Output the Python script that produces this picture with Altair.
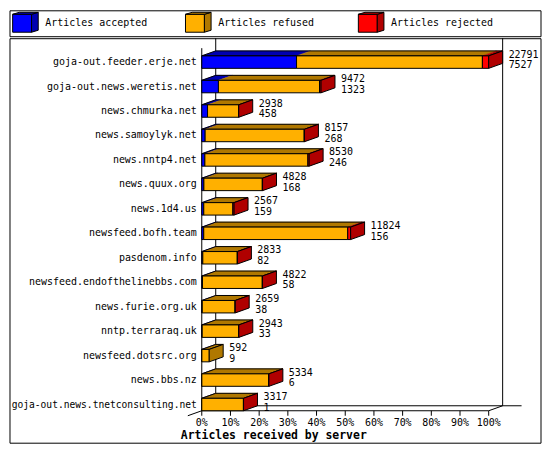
import altair as alt
import pandas as pd

# ---------------- data ----------------
servers = [
    "goja-out.feeder.erje.net", "goja-out.news.weretis.net", "news.chmurka.net",
    "news.samoylyk.net", "news.nntp4.net", "news.quux.org", "news.1d4.us",
    "newsfeed.bofh.team", "pasdenom.info", "newsfeed.endofthelinebbs.com",
    "news.furie.org.uk", "nntp.terraraq.uk", "newsfeed.dotsrc.org", "news.bbs.nz",
    "goja-out.news.tnetconsulting.net",
]
received = [22791, 9472, 2938, 8157, 8530, 4828, 2567, 11824, 2833, 4822, 2659, 2943, 592, 5334, 3317]
accepted = [7527, 1323, 458, 268, 246, 168, 159, 156, 82, 58, 38, 33, 9, 6, 1]
rejected = [500, 120, 15, 20, 100, 20, 100, 230, 12, 15, 10, 12, 0, 12, 10]
series = ["Articles accepted", "Articles refused", "Articles rejected"]
tick_values = [0, 10, 20, 30, 40, 50, 60, 70, 80, 90, 100]
tick_labels = [f"{t}%" for t in tick_values]
x_title = "Articles received by server"

# ---------------- styles / geometry ----------------
FONT = "DejaVu Sans Mono"
FRONT = ["#0000ff", "#ffb000", "#ff0000"]
DARK = ["#0000b0", "#b07800", "#b00000"]
W = 533                       # panel width
LEG_H = 26                    # legend panel height
MAIN_H = 406                  # main panel height
X0, X100 = 193, 481           # pixel range of 0%..100%
PX_PER_PCT = (X100 - X0) / 100
ROW0, ROW_PX = 24.0, 24.55    # first row centre, row pitch (px)
LABEL_ROOM = 186              # px available left of the axis for server names
n = len(servers) - 1
XS = alt.Scale(domain=[0, 100], range=[X0, X100], nice=False, zero=False)
YS = alt.Scale(domain=[0, n], range=[ROW0, ROW0 + n * ROW_PX], nice=False, zero=False)
px_x = lambda p: p / PX_PER_PCT      # pixels -> % units
px_y = lambda p: p / ROW_PX          # pixels -> row units
DX = px_x(14)      # 3D depth, horizontal
DY = px_y(5)       # 3D depth, vertical
H = px_y(6.25)     # half bar height

vmax = max(received)
pct = lambda v: v / vmax * 100

front_rows, top_rows, outline_rows, side_rows, label_rows = [], [], [], [], []
for i, name in enumerate(servers):
    refused = received[i] - accepted[i] - rejected[i]
    parts = [accepted[i], refused, rejected[i]]
    start = 0.0
    last = 0
    for k, v in enumerate(parts):
        if v <= 0:
            continue
        end = start + pct(v)
        sid = f"{i}-{k}"
        front_rows.append(dict(x=start, x2=end, y=i - H, y2=i + H, col=FRONT[k]))
        top_rows.append(dict(seg=sid, y=i - H, x=start, x2=end, col=DARK[k]))
        top_rows.append(dict(seg=sid, y=i - H - DY, x=start + DX, x2=end + DX, col=DARK[k]))
        start = end
        last = k
    tot = pct(received[i])
    outline_rows.append(dict(row=i, y=i - H, x=0, x2=tot))
    outline_rows.append(dict(row=i, y=i - H - DY, x=DX, x2=tot + DX))
    side_rows.append(dict(row=i, x=tot, y=i - H, y2=i + H, col=DARK[last]))
    side_rows.append(dict(row=i, x=tot + DX, y=i - H - DY, y2=i + H - DY, col=DARK[last]))
    fs = min(10.0, LABEL_ROOM / (0.602 * len(name)))
    label_rows.append(dict(row=i, name=name, fs=fs, tot=tot, zero=0,
                           total=str(received[i]), acc=str(accepted[i])))

front_df = pd.DataFrame(front_rows)
top_df = pd.DataFrame(top_rows)
outline_df = pd.DataFrame(outline_rows)
side_df = pd.DataFrame(side_rows)
label_df = pd.DataFrame(label_rows)

floor_front = n + H
floor_back = floor_front - DY
top_back = -px_y(ROW0)
top_front = top_back + px_y(10)
tick_len = px_y(5)
frame_df = pd.DataFrame([
    dict(x=DX, x2=DX, y=top_back, y2=floor_back),
    dict(x=100 + DX, x2=100 + DX, y=top_back, y2=floor_back),
    dict(x=DX, x2=100 + DX + px_x(19), y=floor_back, y2=floor_back),
    dict(x=-DX, x2=DX, y=floor_front + tick_len, y2=floor_back),
    dict(x=0, x2=100, y=floor_front, y2=floor_front),
    dict(x=100, x2=100 + DX, y=floor_front, y2=floor_back),
    dict(x=0, x2=0, y=top_front, y2=floor_front),
] + [dict(x=t, x2=t, y=floor_front, y2=floor_front + tick_len) for t in tick_values])

tick_df = pd.DataFrame(dict(x=tick_values, lab=tick_labels, y=[floor_front] * len(tick_values)))
title_df = pd.DataFrame(dict(x=[0], y=[floor_front], t=[x_title]))

X = lambda f="x": alt.X(f"{f}:Q", scale=XS, axis=None)
Y = lambda f="y": alt.Y(f"{f}:Q", scale=YS, axis=None)

frame = alt.Chart(frame_df).mark_rule(color="black", strokeWidth=1).encode(
    x=X(), x2="x2:Q", y=Y(), y2="y2:Q")

top_seg = alt.Chart(top_df).mark_area(orient="horizontal", strokeWidth=0.5, opacity=1).encode(
    y=Y(), x=X(), x2="x2:Q", detail="seg:N",
    fill=alt.Fill("col:N", scale=None), stroke=alt.Stroke("col:N", scale=None))

top_outline = alt.Chart(outline_df).mark_area(
    orient="horizontal", fill="white", fillOpacity=0, stroke="black", strokeWidth=1).encode(
    y=Y(), x=X(), x2="x2:Q", detail="row:N")

front = alt.Chart(front_df).mark_rect(stroke="black", strokeWidth=1).encode(
    x=X(), x2="x2:Q", y=Y(), y2="y2:Q", fill=alt.Fill("col:N", scale=None))

side = alt.Chart(side_df).mark_area(orient="vertical", stroke="black", strokeWidth=1, opacity=1).encode(
    x=X(), y=Y(), y2="y2:Q", detail="row:N", fill=alt.Fill("col:N", scale=None))

ylab = alt.Chart(label_df).mark_text(align="right", baseline="middle", dx=-5, font=FONT,
                                     color="black").encode(
    x=X("zero"), y=Y("row"), text="name:N", size=alt.Size("fs:Q", scale=None, legend=None))

tot_lab = alt.Chart(label_df).mark_text(align="left", baseline="alphabetic", dx=20, dy=-4.5,
                                        font=FONT, fontSize=10, color="black").encode(
    x=X("tot"), y=Y("row"), text="total:N")
acc_lab = alt.Chart(label_df).mark_text(align="left", baseline="alphabetic", dx=20, dy=6.2,
                                        font=FONT, fontSize=10, color="black").encode(
    x=X("tot"), y=Y("row"), text="acc:N")

tick_lab = alt.Chart(tick_df).mark_text(align="center", baseline="alphabetic", dy=15,
                                        font=FONT, fontSize=10, color="black").encode(
    x=X(), y=Y(), text="lab:N")
title = alt.Chart(title_df).mark_text(align="left", baseline="alphabetic", dx=-21, dy=28.5,
                                      font=FONT, fontSize=11.5, fontWeight="bold", color="black").encode(
    x=X(), y=Y(), text="t:N")

main = alt.layer(frame, top_seg, top_outline, front, side, ylab, tot_lab, acc_lab, tick_lab, title).properties(
    width=W, height=MAIN_H)

# ---------------- legend ----------------
leg_df = pd.DataFrame(dict(idx=[0, 1, 2], name=series, front=FRONT, dark=DARK))
LX = alt.Scale(domain=[0, 2], range=[16, 363], nice=False, zero=False)
CUBE_FRONT = "M-0.988,-0.615L0.473,-0.615L0.473,0.769L-0.988,0.769Z"
CUBE_SIDE = "M0.473,-0.615L0.988,-0.769L0.988,0.615L0.473,0.769Z"
CUBE_TOP = "M-0.988,-0.615L-0.473,-0.769L0.988,-0.769L0.473,-0.615Z"
lbase = alt.Chart(leg_df).encode(x=alt.X("idx:Q", scale=LX, axis=None), y=alt.value(12))
l_front = lbase.mark_point(shape=CUBE_FRONT, size=676, filled=True, opacity=1, stroke="black",
                           strokeWidth=1).encode(fill=alt.Fill("front:N", scale=None))
l_side = lbase.mark_point(shape=CUBE_SIDE, size=676, filled=True, opacity=1, stroke="black",
                          strokeWidth=1).encode(fill=alt.Fill("dark:N", scale=None))
l_top = lbase.mark_point(shape=CUBE_TOP, size=676, filled=True, opacity=1, stroke="black",
                         strokeWidth=1).encode(fill=alt.Fill("dark:N", scale=None))
l_text = lbase.mark_text(align="left", baseline="middle", dx=20, dy=1, font=FONT, fontSize=10,
                         color="black").encode(text="name:N")
legend = alt.layer(l_front, l_side, l_top, l_text).properties(width=W, height=LEG_H)

chart = alt.vconcat(legend, main, spacing=0).properties(padding=0.5).configure(
    background="white").configure_view(stroke="black", strokeWidth=1)

chart.save("out.html", embed_options={"renderer": "svg", "actions": False})
